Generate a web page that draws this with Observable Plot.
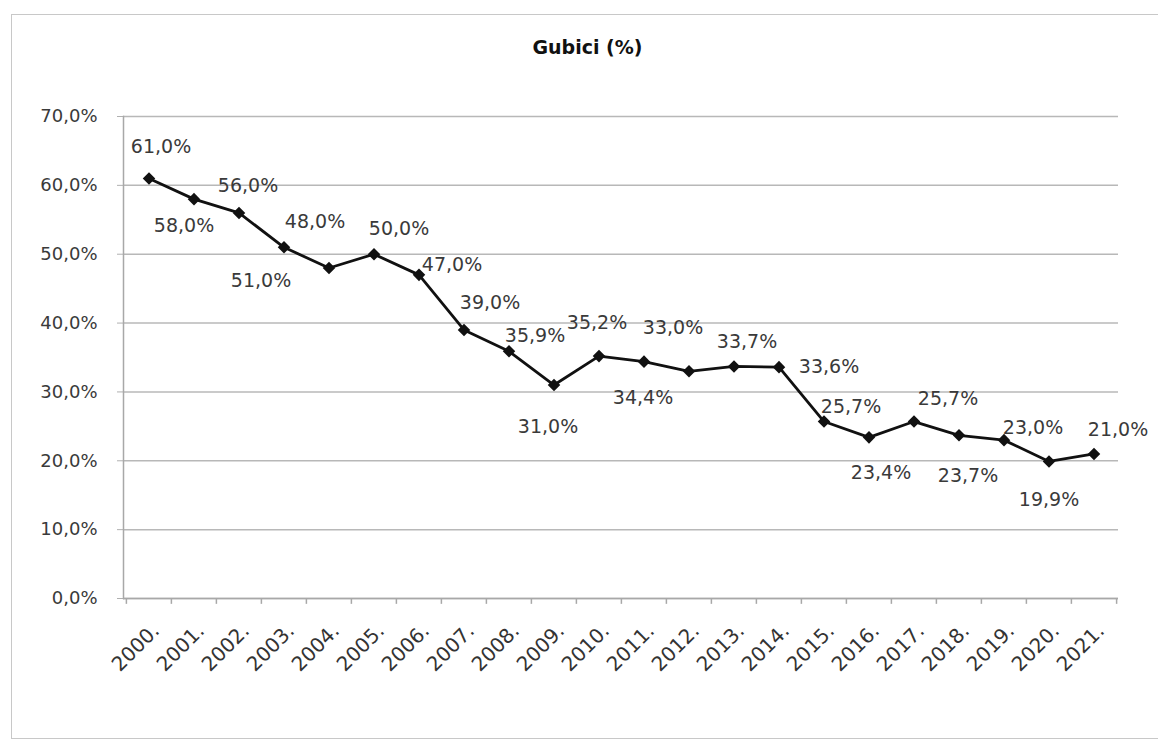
<!DOCTYPE html>
<html>
<head>
<meta charset="utf-8">
<script src="https://cdn.jsdelivr.net/npm/d3@7"></script>
<script src="https://cdn.jsdelivr.net/npm/@observablehq/plot@0.6"></script>
<style>
  html, body { margin: 0; padding: 0; background: #fff; }
  #wrap { position: relative; width: 1158px; height: 742px; overflow: hidden; font-family: "DejaVu Sans", sans-serif; }
  #border { position: absolute; left: 11px; top: 14px; width: 1160px; height: 725px; border: 1.5px solid #c8c8c8; box-sizing: border-box; }
  #title { position: absolute; left: 0; width: 1175px; top: 35px; text-align: center; font-weight: bold; font-size: 19px; line-height: 24px; color: #111; }
  #chart { position: absolute; left: 0; top: 80px; }
</style>
</head>
<body>
<div id="wrap">
  <div id="border"></div>
  <div id="title">Gubici (%)</div>
  <div id="chart"></div>
</div>
<script>
// ---- data ----
const years = [2000, 2001, 2002, 2003, 2004, 2005, 2006, 2007, 2008, 2009, 2010,
               2011, 2012, 2013, 2014, 2015, 2016, 2017, 2018, 2019, 2020, 2021];
const losses = [61.0, 58.0, 56.0, 51.0, 48.0, 50.0, 47.0, 39.0, 35.9, 31.0, 35.2,
                34.4, 33.0, 33.7, 33.6, 25.7, 23.4, 25.7, 23.7, 23.0, 19.9, 21.0];
const yTicks = [0, 10, 20, 30, 40, 50, 60, 70];
// label placement offsets (pixels, relative to each point)
const labelDx = [12, -10, 9, -23, -14, 25, 33, 26, 26, -6, -2, -1, -16, 13, 50, 27, 12, 34, 9, 29, 0, 24];
const labelDy = [-32, 27, -27, 34, -46, -25, -10, -27, -15, 42, -33, 36, -43, -25, 0, -15, 36, -23, 41, -12, 38, -24];

const data = years.map((year, i) => ({year, value: losses[i]}));
const fmt = v => v.toFixed(1).replace(".", ",") + "%";

const W = 1158, H = 662, mL = 123, mR = 40, mT = 36, mB = 144;
const bw = (W - mL - mR) / years.length;

const labelMarks = data.map((d, i) => Plot.text([d], {
  x: "year", y: "value", text: d => fmt(d.value),
  dx: labelDx[i], dy: labelDy[i], fill: "#3a3a3a", fontSize: 19
}));

const chart = Plot.plot({
  width: W, height: H,
  marginLeft: mL, marginRight: mR, marginTop: mT, marginBottom: mB,
  style: {fontFamily: "DejaVu Sans, sans-serif", fontSize: "18px", color: "#3a3a3a", background: "transparent"},
  x: {type: "band", domain: years, padding: 0},
  y: {domain: [0, 70]},
  marks: [
    Plot.gridY(yTicks, {stroke: "#b8b8b8", strokeOpacity: 1, strokeWidth: 1.5}),
    Plot.axisY(yTicks, {tickSize: 6, tickPadding: 20, tickFormat: fmt, stroke: "#b0b0b0", fill: "#3a3a3a", fontSize: 18, label: null}),
    Plot.axisX(years, {tickSize: 0, tickRotate: -45, tickPadding: 29, dx: 7, tickFormat: d => d + ".", fill: "#333", fontSize: 20, label: null}),
    Plot.frame({anchor: "left", stroke: "#a8a8a8", strokeWidth: 1.5}),
    Plot.ruleY([0], {stroke: "#a8a8a8", strokeWidth: 1.5}),
    Plot.ruleX(years, {x: d => d, dx: -bw / 2, y1: 0, y2: -0.85, stroke: "#a8a8a8", strokeWidth: 1.5}),
    Plot.ruleX([years[years.length - 1]], {x: d => d, dx: bw / 2, y1: 0, y2: -0.85, stroke: "#a8a8a8", strokeWidth: 1.5}),
    Plot.line(data, {x: "year", y: "value", stroke: "#111", strokeWidth: 2.8}),
    Plot.dot(data, {x: "year", y: "value", symbol: "square", rotate: 45, r: 5, fill: "#111", stroke: "none"}),
    ...labelMarks
  ]
});
document.getElementById("chart").appendChild(chart);
</script>
</body>
</html>
